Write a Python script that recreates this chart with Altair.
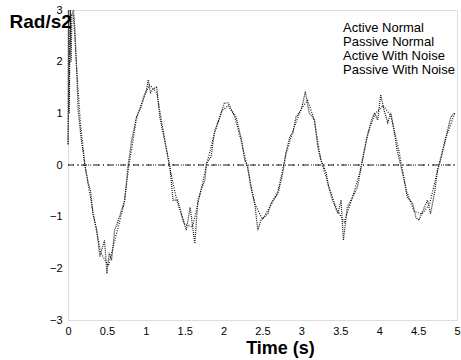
import altair as alt
import pandas as pd

series_names = ["Active Normal", "Passive Normal", "Active With Noise", "Passive With Noise"]

# Active With Noise (noisy trace)
t_noise = [0.0, 0.005, 0.015, 0.03, 0.04, 0.05, 0.07, 0.09, 0.11, 0.13, 0.17, 0.22, 0.26, 0.29, 0.32,
           0.37, 0.41, 0.44, 0.47, 0.50, 0.53, 0.56, 0.60, 0.64, 0.69, 0.73, 0.77, 0.82, 0.88, 0.94,
           1.01, 1.03, 1.06, 1.09, 1.14, 1.18, 1.24, 1.31, 1.35, 1.41, 1.48, 1.52, 1.57, 1.63, 1.67,
           1.71, 1.76, 1.78, 1.84, 1.88, 1.95, 2.01, 2.06, 2.12, 2.16, 2.23, 2.27, 2.31, 2.35, 2.40,
           2.44, 2.48, 2.57, 2.61, 2.70, 2.76, 2.80, 2.85, 2.89, 2.93, 3.00, 3.05, 3.10, 3.17, 3.21,
           3.25, 3.32, 3.35, 3.40, 3.47, 3.51, 3.54, 3.59, 3.66, 3.72, 3.77, 3.83, 3.89, 3.94, 3.98,
           4.02, 4.06, 4.11, 4.15, 4.19, 4.23, 4.28, 4.32, 4.36, 4.43, 4.47, 4.51, 4.58, 4.62, 4.66,
           4.71, 4.75, 4.79, 4.83, 4.88, 4.92, 4.97]
v_noise = [0.4, 3.0, 1.0, 3.0, 2.0, 2.9, 3.0, 2.6, 1.9, 1.07, 0.5, -0.03, -0.35, -0.5, -0.94,
           -1.26, -1.78, -1.6, -1.46, -2.1, -1.7, -1.84, -1.26, -1.1, -0.87, -0.68, -0.03, 0.49, 0.93, 1.13,
           1.46, 1.65, 1.4, 1.46, 1.52, 0.93, 0.49, -0.03, -0.68, -0.68, -1.07, -1.26, -0.82, -1.52, -0.68,
           -0.49, -0.29, 0.04, 0.16, 0.62, 0.93, 1.2, 1.2, 1.01, 0.93, 0.49, 0.1, -0.03, -0.43, -0.74,
           -1.26, -1.07, -0.94, -0.74, -0.55, -0.16, 0.23, 0.54, 0.62, 0.93, 1.07, 1.42, 1.01, 0.87, 0.35,
           0.1, -0.16, -0.43, -0.68, -0.94, -0.68, -1.46, -0.82, -0.62, -0.43, -0.03, 0.43, 0.82, 1.01, 0.87,
           1.36, 1.07, 0.82, 1.01, 0.68, 0.29, -0.03, -0.29, -0.62, -0.74, -1.01, -1.07, -0.82, -0.68, -0.94,
           -0.55, -0.1, 0.1, 0.35, 0.68, 0.93, 1.01]

# Active Normal (smoother trace)
t_norm = [0.0, 0.03, 0.07, 0.11, 0.16, 0.22, 0.32, 0.42, 0.52, 0.62, 0.72, 0.78, 0.88, 0.98, 1.05,
          1.14, 1.22, 1.30, 1.40, 1.50, 1.60, 1.70, 1.78, 1.88, 1.98, 2.06, 2.14, 2.22, 2.30, 2.40,
          2.50, 2.60, 2.70, 2.80, 2.90, 3.00, 3.08, 3.16, 3.25, 3.35, 3.45, 3.55, 3.65, 3.75, 3.85,
          3.95, 4.05, 4.15, 4.25, 4.35, 4.45, 4.55, 4.65, 4.75, 4.85, 4.97]
v_norm = [0.4, 2.9, 2.9, 1.9, 0.8, -0.03, -0.9, -1.7, -1.95, -1.35, -0.75, -0.05, 0.9, 1.35, 1.55,
          1.4, 0.7, 0.0, -0.7, -1.15, -1.2, -0.55, 0.0, 0.6, 1.05, 1.15, 0.95, 0.5, 0.0, -0.75,
          -1.05, -0.8, -0.5, 0.2, 0.7, 1.1, 1.25, 0.9, 0.1, -0.4, -0.85, -1.1, -0.65, -0.15, 0.6,
          1.0, 1.15, 0.95, 0.3, -0.5, -0.9, -0.95, -0.75, -0.1, 0.5, 1.0]

# Passive traces (lie on the zero line)
t_pass = [0.0, 5.0]
v_pass = [0.0, 0.0]

x_ticks = [0, 0.5, 1, 1.5, 2, 2.5, 3, 3.5, 4, 4.5, 5]
y_ticks = [-3, -2, -1, 0, 1, 2, 3]

frames = [
    pd.DataFrame({"t": t_norm, "v": v_norm, "series": "Active Normal", "order": range(len(t_norm))}),
    pd.DataFrame({"t": t_pass, "v": v_pass, "series": "Passive Normal", "order": range(len(t_pass))}),
    pd.DataFrame({"t": t_noise, "v": v_noise, "series": "Active With Noise", "order": range(len(t_noise))}),
    pd.DataFrame({"t": t_pass, "v": v_pass, "series": "Passive With Noise", "order": range(len(t_pass))}),
]
df = pd.concat(frames, ignore_index=True)

chart = alt.Chart(df).mark_line(strokeWidth=1.2, opacity=0.9).encode(
    x=alt.X("t:Q", scale=alt.Scale(domain=[0, 5], nice=False, zero=False),
            axis=alt.Axis(values=x_ticks, format="~g", title="Time (s)", grid=False, domain=False,
                          ticks=False, labelFontSize=11, labelColor="black", labelPadding=5,
                          labelFont="Liberation Sans", titleFont="Liberation Sans",
                          titleFontSize=18, titleFontWeight="bold", titleColor="black",
                          titleX=212, titleY=33, titleBaseline="alphabetic", titleAlign="center",
                          labelFlush=False)),
    y=alt.Y("v:Q", scale=alt.Scale(domain=[-3, 3], nice=False),
            axis=alt.Axis(values=y_ticks, format="d", title="Rad/s2", grid=False, domain=False,
                          ticks=False, labelFontSize=11, labelColor="black", labelPadding=6,
                          labelFont="Liberation Sans", titleFont="Liberation Sans",
                          titleFontSize=19, titleFontWeight="bold", titleColor="black",
                          titleAngle=0, titleX=-59, titleY=17, titleAlign="left",
                          titleBaseline="alphabetic")),
    color=alt.Color("series:N", scale=alt.Scale(domain=series_names, range=["black"] * 4),
                    legend=alt.Legend(title=None, orient="none", legendX=262, legendY=11,
                                      symbolSize=0, symbolOpacity=0, symbolStrokeWidth=0,
                                      labelOffset=0, labelFontSize=13, labelFont="Liberation Sans",
                                      labelColor="black", rowPadding=-2, padding=0)),
    strokeDash=alt.StrokeDash("series:N",
                              scale=alt.Scale(domain=series_names,
                                              range=[[1, 1.5], [6, 3, 1, 3], [1, 1], [1, 4]]),
                              legend=None),
    order="order:Q",
).properties(
    width=389, height=310,
    autosize=alt.AutoSizeParams(type="none"),
    padding={"left": 68, "top": 10, "right": 4, "bottom": 40},
).configure_view(stroke=None).configure(background="white")

chart.save("out.html", embed_options={"renderer": "svg", "actions": False})
